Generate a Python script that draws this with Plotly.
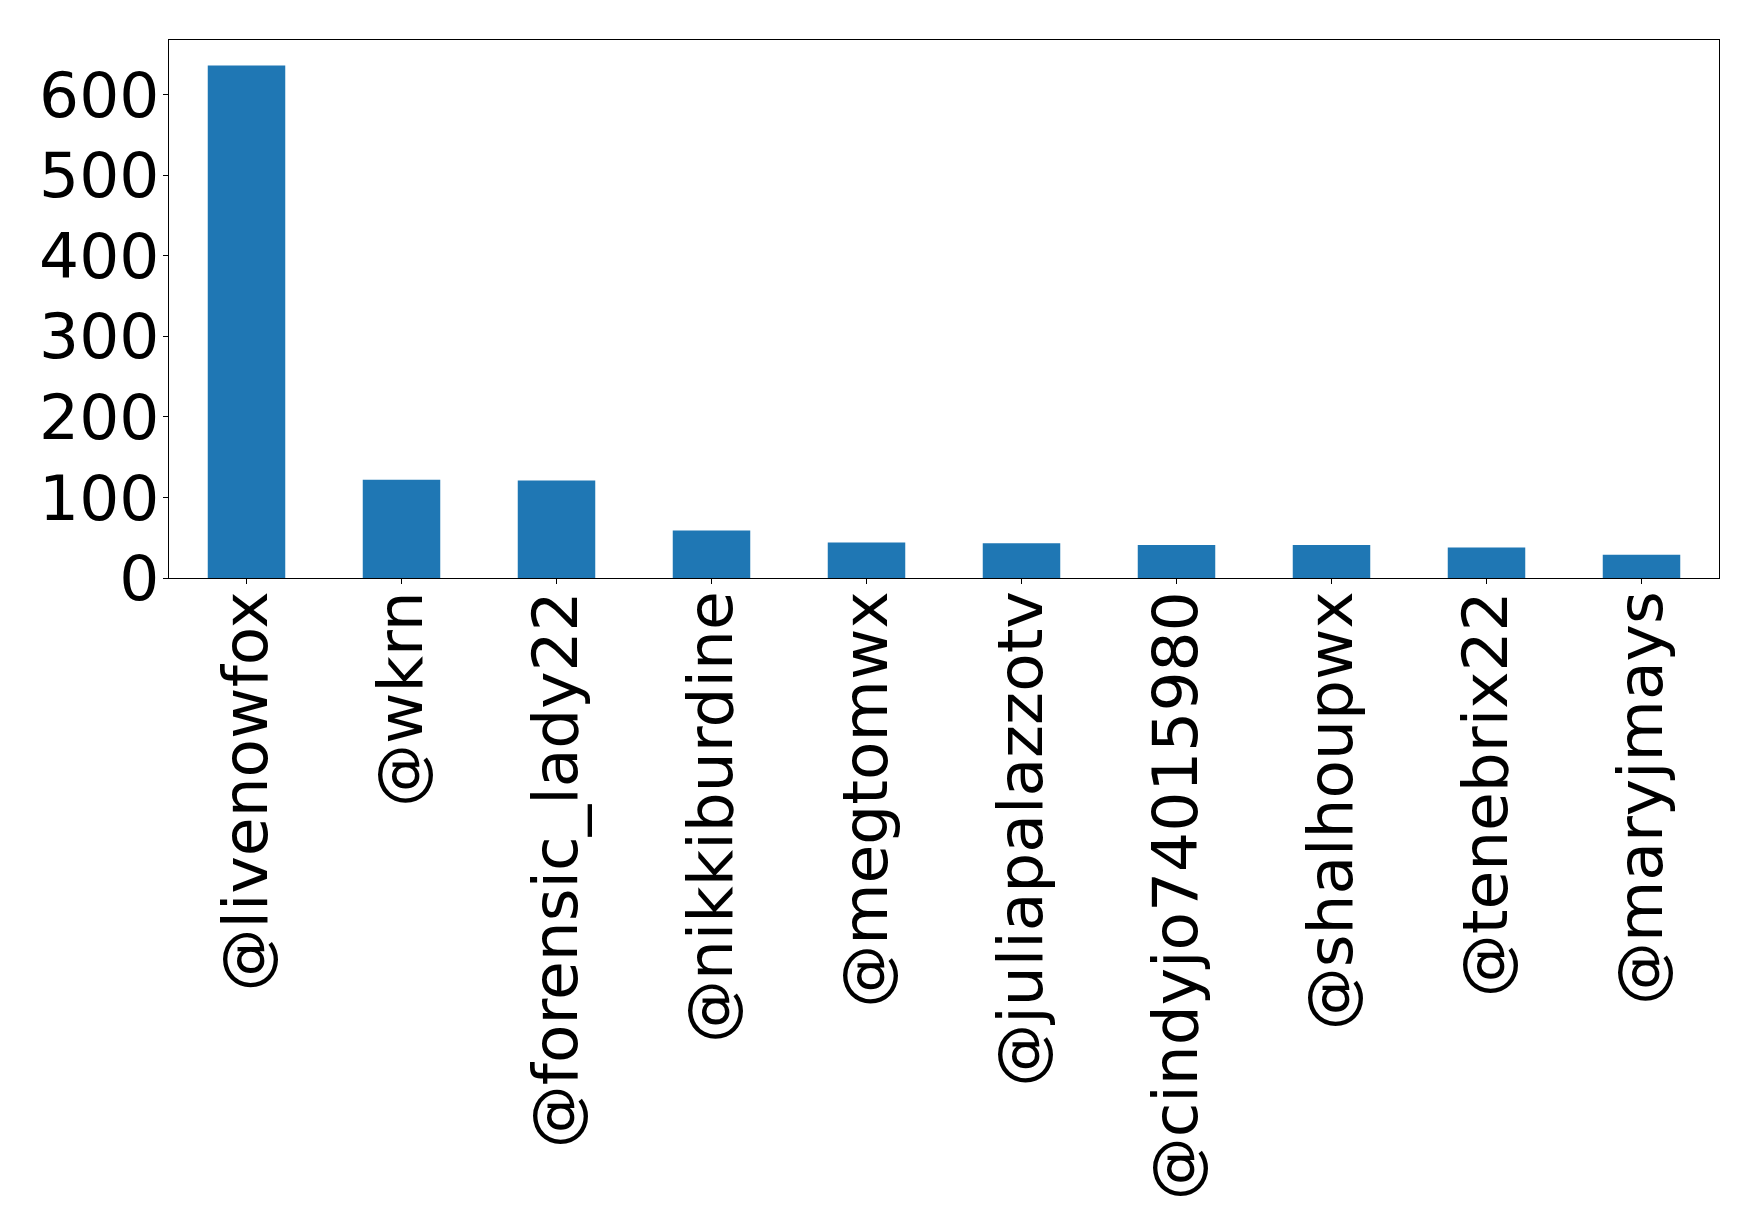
import plotly.graph_objects as go

categories = ["@livenowfox", "@wkrn", "@forensic_lady22", "@nikkiburdine", "@megtomwx",
              "@juliapalazzotv", "@cindyjo74015980", "@shalhoupwx", "@tenebrix22", "@maryjmays"]
values = [636, 122, 121, 59, 44, 43, 41, 41, 38, 29]
y_ticks = [0, 100, 200, 300, 400, 500, 600]

fig = go.Figure(go.Bar(x=list(range(len(categories))), y=values, width=0.5,
                       marker=dict(color="#1f77b4", line=dict(width=0))))

font = dict(family="DejaVu Sans", size=63, color="black")
fig.update_layout(
    width=1759, height=1232,
    margin=dict(l=161, r=48, t=32, b=662),
    plot_bgcolor="white", paper_bgcolor="white",
    showlegend=False, font=font,
)
fig.update_xaxes(
    range=[-0.5, len(categories) - 0.5],
    tickmode="array", tickvals=list(range(len(categories))), ticktext=categories,
    tickangle=-90, ticks="outside", ticklen=5, tickwidth=1.2, tickcolor="black",
    showline=True, linecolor="black", linewidth=1.2, mirror=True,
    showgrid=False, zeroline=False, tickfont=font, ticklabelstandoff=-18,
)
fig.update_yaxes(
    range=[0, max(values) * 1.05],
    tickmode="array", tickvals=y_ticks, ticktext=[str(t) for t in y_ticks],
    ticks="outside", ticklen=5, tickwidth=1.2, tickcolor="black",
    showline=True, linecolor="black", linewidth=1.2, mirror=True,
    showgrid=False, zeroline=False, tickfont=font, ticklabelstandoff=-9,
)
fig.write_html("out.html")
